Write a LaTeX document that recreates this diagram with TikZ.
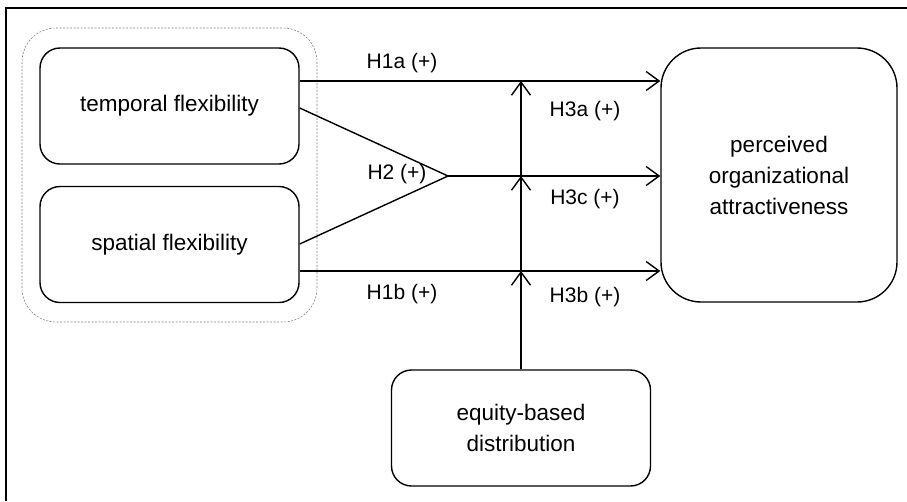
\documentclass[tikz,border=0pt]{standalone}
\usepackage{fontspec}
\setmainfont{Liberation Sans}
\usetikzlibrary{arrows.meta, math}

\tikzset{
  construct/.style={draw, line width=1.4pt, rounded corners=20pt, align=center,
    font=\fontsize{22.5}{31}\selectfont, minimum width=259pt, minimum height=116pt, inner sep=0pt},
  hyplabel/.style={font=\fontsize{21}{25}\selectfont, inner sep=0pt},
  effect/.style={line width=1.4pt, -{Straight Barb[length=13pt, width=19pt, line width=1.4pt]}},
  plain/.style={line width=1.4pt}
}

\begin{document}
\begin{tikzpicture}[x=1pt, y=-1pt]
\tikzmath{
\xl=169.5;
\xm=521;
\xr=779;
\ya=81;
\yc=176;
\yb=271;
}
\useasboundingbox (0,0) rectangle (907,501);

% frame
\draw[line width=1.2pt] (6,501) -- (6,8) -- (907,8);

% group of the two flexibility types
\draw[gray, dash pattern=on 2pt off 1.5pt, line width=0.6pt, rounded corners=34pt] (22,28) rectangle (317,322);

\node[construct] (temp) at (\xl,106) {temporal flexibility};
\node[construct] (spat) at (\xl,244.5) {spatial flexibility};
\node[construct, rounded corners=40pt, minimum width=236pt, minimum height=254pt] (poa) at (\xr,175) {perceived\\organizational\\attractiveness};
\node[construct] (equ) at (\xm,428) {equity-based\\distribution};

\coordinate (tip) at (448,\yc);
\coordinate (ma) at (\xm,\ya);
\coordinate (mc) at (\xm,\yc);
\coordinate (mb) at (\xm,\yb);

% direct effects
\draw[effect] (temp.east |- 0,\ya) -- (poa.west |- 0,\ya);
\draw[effect] (spat.east |- 0,\yb) -- (poa.west |- 0,\yb);

% interaction
\draw[plain] (temp.east |- 0,108) -- (tip) -- (spat.east |- 0,244);
\draw[effect] (tip) -- (poa.west |- 0,\yc);

% moderation
\draw[effect] (equ.north) -- (mb);
\draw[effect] (mb) -- (mc);
\draw[effect] (mc) -- (ma);

\node[hyplabel] (h1a) at (402,63) {H1a (+)};
\node[hyplabel] (h1b) at (402,294) {H1b (+)};
\node[hyplabel] (h2) at (397,174) {H2 (+)};
\node[hyplabel] (h3a) at (585,111) {H3a (+)};
\node[hyplabel] (h3c) at (585,199) {H3c (+)};
\node[hyplabel] (h3b) at (585,297) {H3b (+)};
\end{tikzpicture}
\end{document}
